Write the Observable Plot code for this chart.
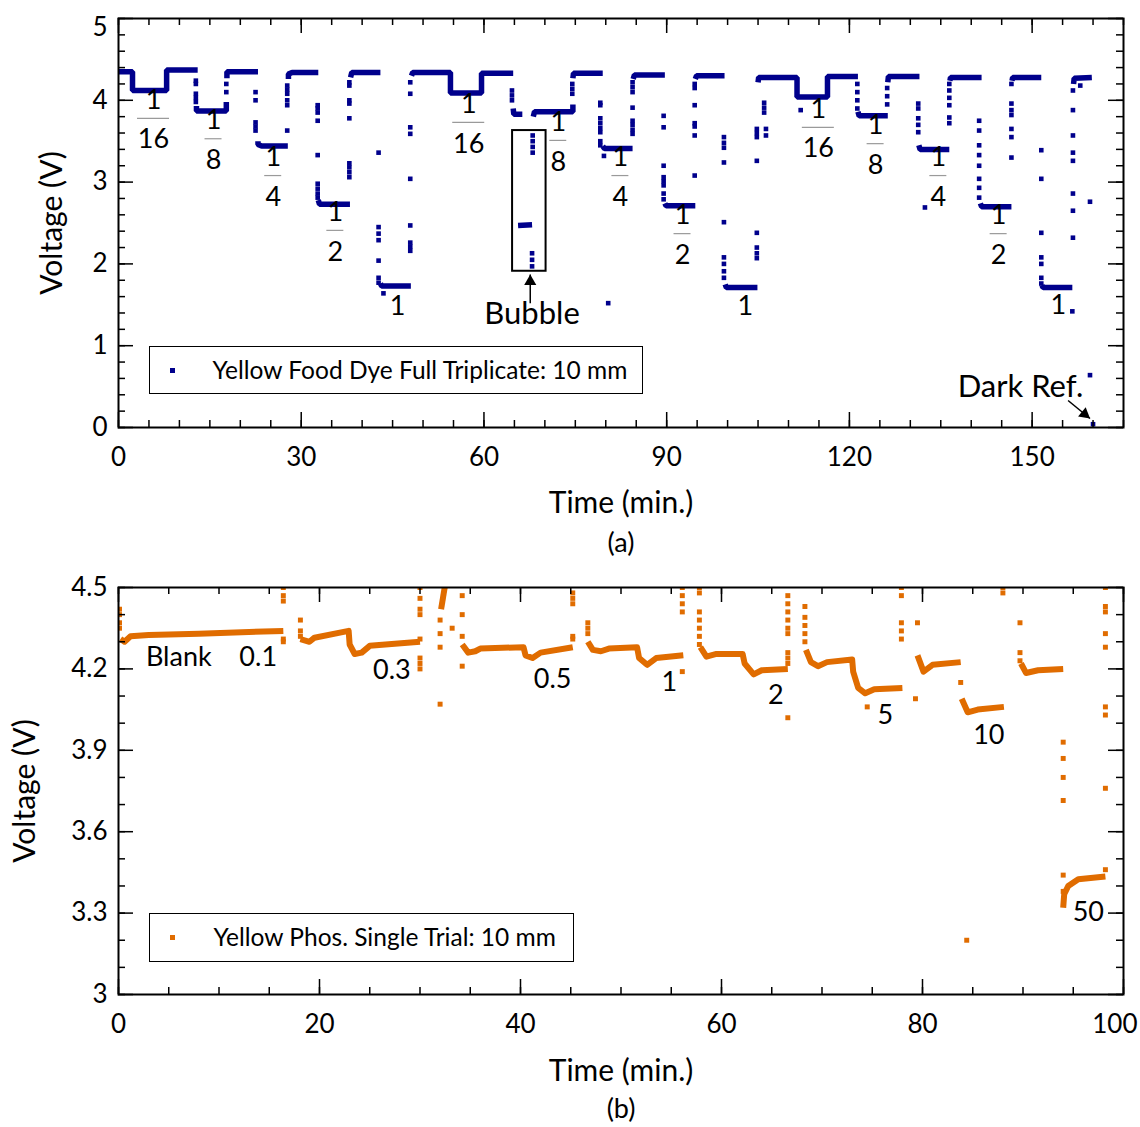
<!DOCTYPE html>
<html><head><meta charset="utf-8">
<script src="https://cdn.jsdelivr.net/npm/d3@7"></script>
<script src="https://cdn.jsdelivr.net/npm/@observablehq/plot@0.6"></script>
<style>
body{margin:0;background:#fff;font-family:Lato,"Open Sans",sans-serif;}
#wrap{width:1140px;}
.panel{position:relative;width:1140px;}
.panel svg{display:block;}
.legend{position:absolute;border:1.5px solid #000;background:#fff;box-sizing:border-box;}
.legend .mk{position:absolute;width:5px;height:5px;}
.legend .tx{position:absolute;font-size:24.5px;white-space:nowrap;line-height:24px;color:#000;}
</style></head><body><div id="wrap"></div>
<script>
// ---------- DATA: panel (a) Yellow food dye ----------
// continuous runs of points, as [time (min), voltage (V)] vertices
const dyeRuns = [
 [[0,4.35],[2.3,4.35],[2.3,4.12],[7.9,4.12],[7.9,4.37],[13.0,4.37]],
 [[12.8,3.93],[12.8,3.87],[17.7,3.87],[17.7,3.98]],
 [[17.8,4.27],[17.8,4.35],[22.9,4.35]],
 [[22.9,3.50],[22.9,3.46],[23.5,3.44],[27.8,3.44]],
 [[27.9,4.26],[27.9,4.32],[28.5,4.34],[32.8,4.34]],
 [[32.8,2.78],[33.0,2.73],[38.0,2.73]],
 [[38.1,4.28],[38.3,4.34],[43.0,4.34]],
 [[43.0,1.76],[43.2,1.73],[48.0,1.73]],
 [[48.1,4.30],[48.3,4.34],[54.5,4.34],[54.5,4.09],[59.6,4.09],[59.6,4.33],[64.8,4.33]],
 [[64.8,3.90],[64.9,3.83],[66.3,3.83]],
 [[65.6,2.47],[67.9,2.48]],
 [[68.1,3.80],[68.3,3.86],[74.6,3.86],[74.6,3.95]],
 [[74.6,4.27],[74.7,4.33],[79.5,4.33]],
 [[79.5,3.44],[79.8,3.41],[84.4,3.41]],
 [[84.5,4.26],[84.7,4.31],[89.7,4.31]],
 [[89.7,2.74],[89.9,2.71],[94.7,2.71]],
 [[94.7,4.26],[94.9,4.30],[99.5,4.30]],
 [[99.6,1.75],[99.8,1.71],[104.9,1.71]],
 [[105.0,4.22],[105.1,4.28],[111.4,4.28],[111.4,4.04],[116.4,4.04],[116.4,4.29],[121.4,4.29]],
 [[121.4,3.86],[121.6,3.81],[126.3,3.81]],
 [[126.3,4.22],[126.4,4.29],[131.5,4.29]],
 [[131.4,3.45],[131.6,3.40],[136.4,3.40]],
 [[136.5,4.24],[136.6,4.28],[141.7,4.28]],
 [[141.5,2.74],[141.7,2.70],[146.6,2.70]],
 [[146.7,4.24],[146.8,4.28],[151.5,4.28]],
 [[151.6,1.74],[151.8,1.71],[156.6,1.71]],
 [[156.8,4.20],[156.9,4.27],[159.8,4.28]]
];
// isolated samples (transitions), grouped by time
const dyeDotT = [12.7,17.7,22.5,27.7,32.7,37.9,42.7,43.5,47.9,64.6,68.0,67.9,74.5,79.1,79.7,80.4,84.4,89.5,94.6,99.4,104.8,106.0,106.3,112.0,121.3,126.2,131.3,132.4,136.4,141.3,146.6,151.5,156.6,156.7,157.9,159.5,160.0];
const dyeDotV = [
 [4.24,4.20,4.08,4.03,3.98],
 [4.10,4.20],
 [4.10,4.00,3.73,3.68,3.63],
 [3.63,4.00,3.94,4.08,4.13,4.18],
 [3.94,3.90,3.85,3.75,3.33,2.98,2.92,2.86,2.81],
 [3.06,3.12,3.18,3.23,3.78,3.96,4.00,4.18,4.22],
 [3.36,2.45,2.37,2.29,2.04,1.83,1.77],
 [1.64],
 [2.16,2.21,2.26,2.47,3.04,3.59,3.67,4.08,4.22],
 [4.00,4.06,4.12],
 [3.36,3.43,3.50,3.57],
 [1.97,2.05,2.13],
 [4.08,4.14,4.20],
 [3.45,3.50,3.61,3.66,3.72,3.78,3.94,3.97],
 [3.32],
 [1.52],
 [3.59,3.64,3.70,3.75,3.91,4.10,4.16,4.22],
 [2.79,2.86,2.96,3.01,3.06,3.20,3.67,3.81],
 [3.08,3.57,3.68,3.72,3.94,4.15,4.20],
 [1.83,1.91,2.00,2.08,2.51,3.24,3.42,3.48,3.55],
 [2.07,2.13,2.20,2.38,3.26,3.55,3.60,3.65],
 [3.85,3.91,3.97],
 [3.57,3.65],
 [3.88],
 [3.90,4.00,4.10,4.20],
 [3.95,4.05,4.15],
 [3.61,3.70,3.78,3.90,3.96],
 [2.69],
 [3.72,3.79,3.94,4.03,4.12,4.20],
 [2.81,2.93,3.04,3.20,3.33,3.45,3.63,3.75],
 [3.30,3.55,3.65,3.82,3.88,3.96,4.20],
 [1.76,1.83,2.00,2.08,2.38,3.04,3.39],
 [1.42],
 [2.32,2.65,2.86,3.26,3.36,3.57,3.88,4.12],
 [4.18],
 [2.76,0.64],
 [0.04]
];
// dilution fraction labels (numerator "1" position in data units)
const fracT = [5.75,15.6,25.4,35.6,57.5,72.2,82.4,92.6,114.9,124.3,134.6,144.5];
const fracV = [4.00,3.75,3.30,2.63,3.95,3.73,3.30,2.59,3.89,3.69,3.30,2.59];
const fracDen = ["16","8","4","2","16","8","4","2","16","8","4","2"];
const fullT = [45.8,102.9,154.3];
const fullV = [1.48,1.48,1.49];
const fullText = ["1","1","1"];
// annotations
const bubbleBox = {x1:64.7, x2:70.2, y1:1.91, y2:3.63};
const bubbleArrow = {x1:67.6, y1:1.52, x2:67.6, y2:1.87};
const bubbleLabel = {t:67.9, v:1.39, text:"Bubble"};
const darkArrow = {x1:155.9, y1:0.33, x2:159.5, y2:0.11};
const darkLabel = {t:158.4, v:0.50, text:"Dark Ref."};
// ticks
const topXMajor = [0,30,60,90,120,150];
const topXMinor = [0,5,10,15,20,25,30,35,40,45,50,55,60,65,70,75,80,85,90,95,100,105,110,115,120,125,130,135,140,145,150,155,160,165];
const topYMajor = [0,1,2,3,4,5];
const topYMinor = [0,0.2,0.4,0.6,0.8,1,1.2,1.4,1.6,1.8,2,2.2,2.4,2.6,2.8,3,3.2,3.4,3.6,3.8,4,4.2,4.4,4.6,4.8,5];

// ---------- DATA: panel (b) Yellow phosphor ----------
const phosRuns = [
 [[0.2,4.31],[0.6,4.30],[1.2,4.32],[3.0,4.325],[8.0,4.33],[16.4,4.34]],
 [[18.1,4.31],[19.0,4.30],[19.5,4.315],[22.9,4.34],[23.0,4.29],[23.5,4.255],[24.2,4.26],[25.0,4.285],[30.0,4.30]],
 [[32.1,4.42],[32.5,4.51]],
 [[34.2,4.29],[34.8,4.26],[35.5,4.265],[36.0,4.275],[40.3,4.28],[40.5,4.25],[41.2,4.24],[42.0,4.26],[45.2,4.28]],
 [[46.7,4.30],[47.2,4.27],[48.0,4.265],[48.8,4.275],[51.6,4.28],[51.8,4.24],[52.6,4.215],[53.5,4.24],[56.2,4.25]],
 [[57.9,4.28],[58.5,4.245],[59.5,4.255],[62.1,4.255],[62.3,4.22],[63.2,4.18],[64.0,4.195],[66.6,4.20]],
 [[68.4,4.27],[68.9,4.225],[69.6,4.21],[70.5,4.225],[73.0,4.235],[73.1,4.19],[73.6,4.13],[74.3,4.11],[75.2,4.125],[78.0,4.13]],
 [[79.5,4.25],[80.1,4.19],[81.0,4.215],[83.8,4.225]],
 [[83.9,4.09],[84.5,4.04],[85.5,4.05],[88.1,4.06]],
 [[89.8,4.22],[90.3,4.185],[91.5,4.195],[94.0,4.20]],
 [[94.0,3.32],[94.1,3.37],[94.5,3.40],[95.5,3.425],[98.2,3.435]]
];
const phosDotT = [0.1,16.4,18.1,30.0,32.0,33.2,34.2,45.2,46.7,56.1,57.8,66.6,68.3,74.5,77.9,79.3,79.5,83.8,84.4,88.0,89.7,94.0,98.2];
const phosDotV = [
 [4.42,4.40,4.37,4.35],
 [4.45,4.47,4.50,4.31,4.30],
 [4.38,4.34,4.32],
 [4.50,4.46,4.42,4.40,4.31,4.24,4.22,4.20],
 [4.38,4.33,4.28,4.07],
 [4.35],
 [4.47,4.40,4.32,4.21],
 [4.48,4.46,4.44,4.32,4.31],
 [4.37,4.35,4.33],
 [4.50,4.47,4.44,4.41,4.19],
 [4.50,4.48,4.41,4.38,4.35,4.32,4.29],
 [4.47,4.44,4.41,4.38,4.35,4.33,4.26,4.24,4.22,4.02],
 [4.43,4.39,4.36,4.33,4.30],
 [4.06],
 [4.50,4.47,4.37,4.34,4.31],
 [4.09],
 [4.37],
 [4.15],
 [3.20],
 [4.50,4.48],
 [4.37,4.26,4.23],
 [3.93,3.87,3.80,3.715,3.44,3.38],
 [4.50,4.43,4.41,4.33,4.28,4.06,4.03,3.76,3.46]
];
const phosLabelText = ["Blank","0.1","0.3","0.5","1","2","5","10","50"];
const phosLabelT = [6.0,13.9,27.2,43.2,54.8,65.4,76.3,86.6,96.5];
const phosLabelV = [4.242,4.242,4.194,4.161,4.150,4.102,4.028,3.955,3.302];
const botXMajor = [0,20,40,60,80,100];
const botXMinor = [0,5,10,15,20,25,30,35,40,45,50,55,60,65,70,75,80,85,90,95,100];
const botYMajor = [3,3.3,3.6,3.9,4.2,4.5];
const botYMinor = [3,3.1,3.2,3.3,3.4,3.5,3.6,3.7,3.8,3.9,4,4.1,4.2,4.3,4.4,4.5];

// ---------- helpers ----------
const BLUE = "#00008c", ORANGE = "#e06c00";
const FONT = "Lato, 'Open Sans', sans-serif";
const W = 1140;
function flattenRuns(runs){ const out=[]; runs.forEach((r,i)=>r.forEach(([t,v])=>out.push({t,v,run:i}))); return out; }
function flattenDots(ts, vs){ const out=[]; ts.forEach((t,i)=>vs[i].forEach(v=>out.push({t,v}))); return out; }
function tickRules(xMinor,xMajor,yMinor,yMajor,pw,ph){
  const mn=7, mj=15, s={stroke:"black", strokeWidth:1.5};
  return [
    Plot.ruleX(xMinor,{...s, insetTop:ph-mn}), Plot.ruleX(xMinor,{...s, insetBottom:ph-mn}),
    Plot.ruleX(xMajor,{...s, insetTop:ph-mj}), Plot.ruleX(xMajor,{...s, insetBottom:ph-mj}),
    Plot.ruleY(yMinor,{...s, insetRight:pw-mn}), Plot.ruleY(yMinor,{...s, insetLeft:pw-mn}),
    Plot.ruleY(yMajor,{...s, insetRight:pw-mj}), Plot.ruleY(yMajor,{...s, insetLeft:pw-mj})
  ];
}
function addLegend(panel, box, color, text){
  const d = document.createElement("div"); d.className="legend";
  Object.assign(d.style,{left:box.left+"px",top:box.top+"px",width:box.w+"px",height:box.h+"px"});
  const m = document.createElement("div"); m.className="mk";
  Object.assign(m.style,{left:box.mx+"px",top:box.my+"px",background:color});
  const t = document.createElement("div"); t.className="tx"; t.textContent=text;
  Object.assign(t.style,{left:box.tx+"px",top:box.ty+"px"});
  d.appendChild(m); d.appendChild(t); panel.appendChild(d);
}

// ---------- panel (a) ----------
const mT = {l:118, r:17, t:18, b:133}, H1 = 560;
const pw1 = W - mT.l - mT.r, ph1 = H1 - mT.t - mT.b;
const pxPerMin1 = pw1/165;
const frac = fracT.map((t,i)=>({t, v:fracV[i], den:fracDen[i], hw:(fracDen[i].length===2?16:8.5)/pxPerMin1}));
const full = fullT.map((t,i)=>({t, v:fullV[i], text:fullText[i]}));

const plotA = Plot.plot({
  width:W, height:H1, marginLeft:mT.l, marginRight:mT.r, marginTop:mT.t, marginBottom:mT.b,
  x:{domain:[0,165]}, y:{domain:[0,5]},
  style:{fontFamily:FONT, fontSize:"26px", color:"black", background:"white"},
  marks:[
    Plot.line(flattenRuns(dyeRuns),{x:"t",y:"v",z:"run",stroke:BLUE,strokeWidth:5.5,strokeLinejoin:"miter",strokeLinecap:"butt",clip:true}),
    Plot.dot(flattenDots(dyeDotT,dyeDotV),{x:"t",y:"v",symbol:"square",r:2.6,fill:BLUE,clip:true}),
    Plot.text(frac,{x:"t",y:"v",text:()=>"1",fontSize:27}),
    Plot.ruleY(frac,{y:"v",x1:d=>d.t-d.hw,x2:d=>d.t+d.hw,dy:18,stroke:"#9a9a9a",strokeWidth:1.2}),
    Plot.text(frac,{x:"t",y:"v",text:"den",dy:39.5,fontSize:27}),
    Plot.text(full,{x:"t",y:"v",text:"text",fontSize:27}),
    Plot.rect([bubbleBox],{x1:"x1",x2:"x2",y1:"y1",y2:"y2",fill:"none",stroke:"black",strokeWidth:2}),
    Plot.link([bubbleArrow],{x1:"x1",y1:"y1",x2:"x2",y2:"y2",stroke:"black",strokeWidth:1.5}),
    Plot.dot([bubbleArrow],{x:"x2",y:"y2",symbol:"triangle",r:4.5,fill:"black",dy:7}),
    Plot.text([bubbleLabel],{x:"t",y:"v",text:"text",fontSize:31}),
    Plot.link([darkArrow],{x1:"x1",y1:"y1",x2:"x2",y2:"y2",stroke:"black",strokeWidth:1.5}),
    Plot.dot([darkArrow],{x:"x2",y:"y2",symbol:"triangle",r:4.5,fill:"black",rotate:129,dx:-5.4,dy:-4.4}),
    Plot.text([darkLabel],{x:"t",y:"v",text:"text",fontSize:31,textAnchor:"end"}),
    ...tickRules(topXMinor,topXMajor,topYMinor,topYMajor,pw1,ph1),
    Plot.frame({stroke:"black",strokeWidth:2}),
    Plot.axisX({ticks:topXMajor,tickSize:0,tickPadding:20,label:null,fontSize:26,tickFormat:d=>String(d)}),
    Plot.axisY({ticks:topYMajor.slice(0,5),tickSize:0,tickPadding:11,label:null,fontSize:26,tickFormat:d=>String(d)}),
    Plot.text([topYMajor[5]],{y:d=>d,text:d=>String(d),frameAnchor:"left",textAnchor:"end",dx:-11,dy:9,fontSize:26}),
    Plot.text(["Voltage (V)"],{frameAnchor:"left",textAnchor:"middle",dx:-66,rotate:-90,fontSize:30}),
    Plot.text(["Time (min.)"],{frameAnchor:"bottom",textAnchor:"middle",dy:85,fontSize:30}),
    Plot.text(["(a)"],{frameAnchor:"bottom",textAnchor:"middle",dy:124,fontSize:27})
  ]
});

// ---------- panel (b) ----------
const mB = {l:118, r:17, t:27, b:133}, H2 = 567;
const pw2 = W - mB.l - mB.r, ph2 = H2 - mB.t - mB.b;
const phosLabels = phosLabelText.map((text,i)=>({text, t:phosLabelT[i], v:phosLabelV[i]}));
const plotB = Plot.plot({
  width:W, height:H2, marginLeft:mB.l, marginRight:mB.r, marginTop:mB.t, marginBottom:mB.b,
  x:{domain:[0,100]}, y:{domain:[3,4.5]},
  style:{fontFamily:FONT, fontSize:"26px", color:"black", background:"white"},
  marks:[
    Plot.line(flattenRuns(phosRuns),{x:"t",y:"v",z:"run",stroke:ORANGE,strokeWidth:6,strokeLinejoin:"round",strokeLinecap:"butt",clip:true}),
    Plot.dot(flattenDots(phosDotT,phosDotV),{x:"t",y:"v",symbol:"square",r:2.8,fill:ORANGE,clip:true}),
    Plot.text(phosLabels,{x:"t",y:"v",text:"text",fontSize:27}),
    ...tickRules(botXMinor,botXMajor,botYMinor,botYMajor,pw2,ph2),
    Plot.frame({stroke:"black",strokeWidth:2}),
    Plot.axisX({ticks:botXMajor.slice(0,5),tickSize:0,tickPadding:20,label:null,fontSize:26,tickFormat:d=>String(d)}),
    Plot.text([botXMajor[5]],{x:d=>d,text:d=>String(d),frameAnchor:"bottom",lineAnchor:"top",textAnchor:"end",dx:14,dy:20,fontSize:26}),
    Plot.axisY({ticks:botYMajor,tickSize:0,tickPadding:11,label:null,fontSize:26,tickFormat:d=>String(d)}),
    Plot.text(["Voltage (V)"],{frameAnchor:"left",textAnchor:"middle",dx:-93,rotate:-90,fontSize:30}),
    Plot.text(["Time (min.)"],{frameAnchor:"bottom",textAnchor:"middle",dy:86,fontSize:30}),
    Plot.text(["(b)"],{frameAnchor:"bottom",textAnchor:"middle",dy:123,fontSize:27})
  ]
});

const wrap = document.getElementById("wrap");
const pA = document.createElement("div"); pA.className="panel"; pA.appendChild(plotA); wrap.appendChild(pA);
const pB = document.createElement("div"); pB.className="panel"; pB.appendChild(plotB); wrap.appendChild(pB);
addLegend(pA,{left:149,top:346,w:494,h:48,mx:20,my:20.5,tx:62.5,ty:10.5},BLUE,"Yellow Food Dye Full Triplicate: 10 mm");
addLegend(pB,{left:149,top:353,w:425,h:49,mx:20,my:21,tx:63.5,ty:11},ORANGE,"Yellow Phos. Single Trial: 10 mm");
</script></body></html>
